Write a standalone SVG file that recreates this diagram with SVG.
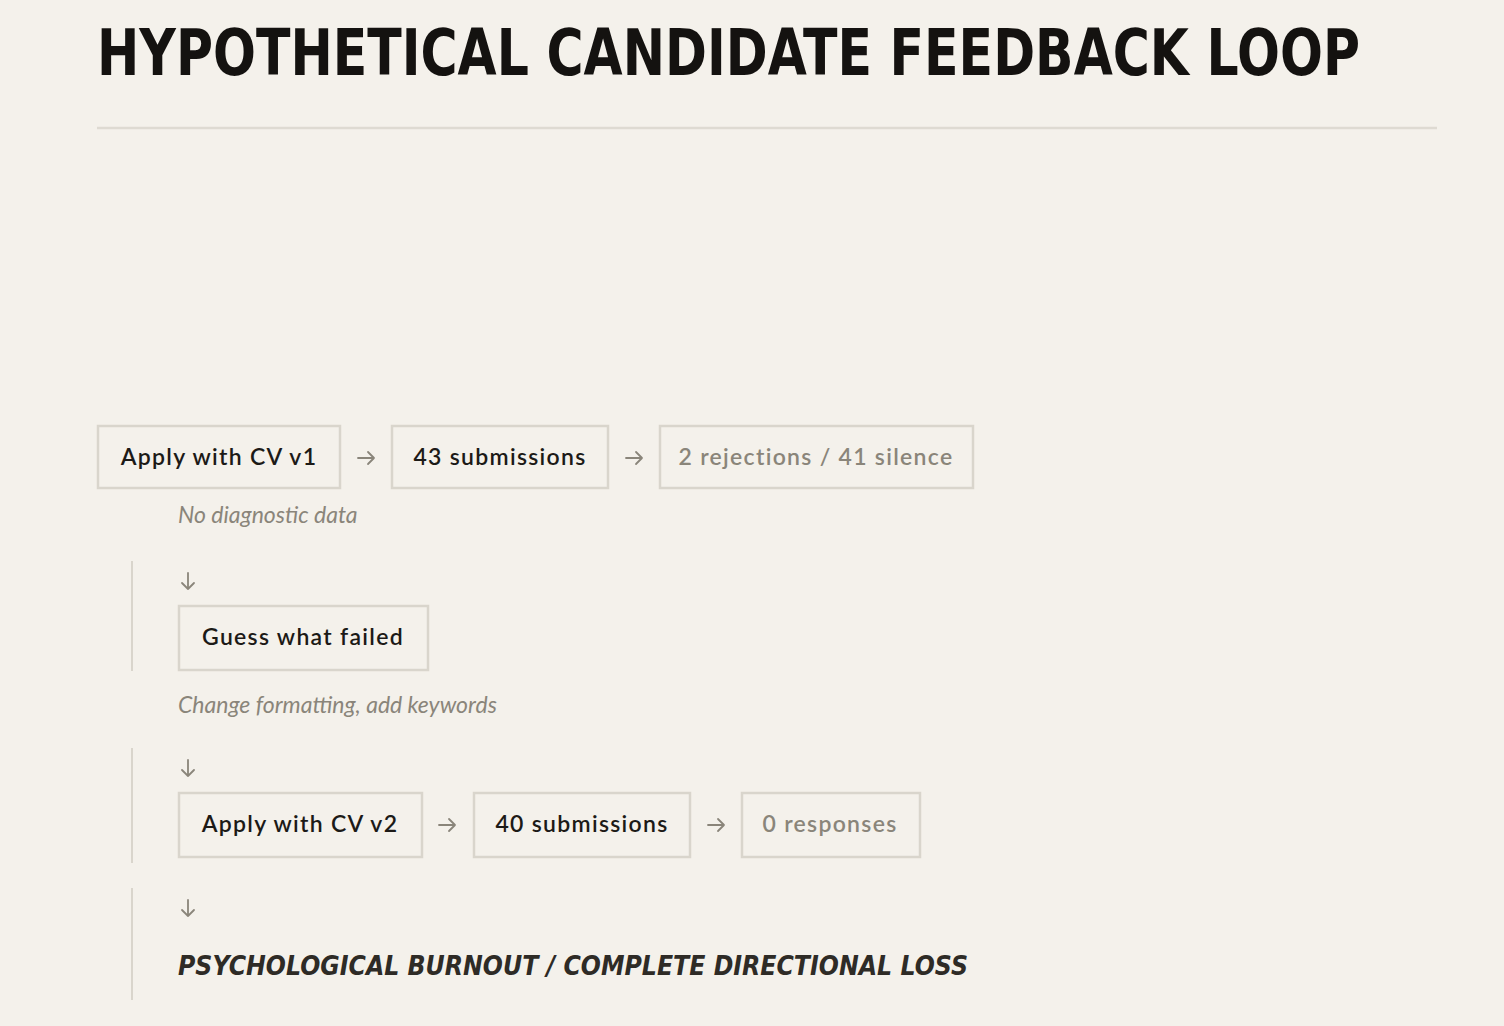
<svg xmlns="http://www.w3.org/2000/svg" width="1504" height="1026" viewBox="0 0 1504 1026">
<style>
.title{font-family:"DejaVu Sans","Liberation Sans",sans-serif;font-weight:700;font-size:52px;fill:#141210}
.box{fill:none;stroke:#d9d5cc;stroke-width:2.5}
.lbl{font-family:Lato,"Liberation Sans",sans-serif;font-size:23px;font-weight:600;letter-spacing:1.3px;fill:#1c1a17;text-anchor:middle}
.dim{fill:#8a857a}
.note{font-family:Lato,"Liberation Sans",sans-serif;font-style:italic;font-size:23px;fill:#8a857a}
.arr{fill:none;stroke:#8a857a;stroke-width:1.8;stroke-linecap:round;stroke-linejoin:round}
.rail{stroke:#d9d5cc;stroke-width:2}
.final{font-family:"DejaVu Sans","Liberation Sans",sans-serif;font-weight:700;font-style:italic;font-size:26px;fill:#2e2b26}
</style>
<rect width="1504" height="1026" fill="#f4f1eb"/>
<g id="header">
<text class="title" transform="translate(97 75) scale(1 1.22)" x="0" y="0" textLength="1263" lengthAdjust="spacingAndGlyphs">HYPOTHETICAL CANDIDATE FEEDBACK LOOP</text>
<line x1="97" y1="128" x2="1437" y2="128" stroke="#dedad2" stroke-width="2.5"/>
</g>
<g id="rails">
<line class="rail" x1="132" y1="561" x2="132" y2="671"/>
<line class="rail" x1="132" y1="748" x2="132" y2="863"/>
<line class="rail" x1="132" y1="888" x2="132" y2="1000"/>
</g>
<g id="n-apply1">
<rect class="box" x="98" y="426" width="242" height="62"/>
<text class="lbl" x="219" y="465">Apply with CV v1</text>
</g>
<g id="n-sub43">
<rect class="box" x="392" y="426" width="216" height="62"/>
<text class="lbl" x="500" y="465">43 submissions</text>
</g>
<g id="n-rej">
<rect class="box" x="660" y="426" width="313" height="62"/>
<text class="lbl dim" x="816" y="465">2 rejections / 41 silence</text>
</g>
<g id="note1">
<text class="note" x="178" y="523">No diagnostic data</text>
</g>
<g id="n-guess">
<rect class="box" x="179" y="606" width="249" height="64"/>
<text class="lbl" x="303" y="645">Guess what failed</text>
</g>
<g id="note2">
<text class="note" x="178" y="713">Change formatting, add keywords</text>
</g>
<g id="n-apply2">
<rect class="box" x="179" y="793" width="243" height="64"/>
<text class="lbl" x="300" y="832">Apply with CV v2</text>
</g>
<g id="n-sub40">
<rect class="box" x="474" y="793" width="216" height="64"/>
<text class="lbl" x="582" y="832">40 submissions</text>
</g>
<g id="n-resp">
<rect class="box" x="742" y="793" width="178" height="64"/>
<text class="lbl dim" x="830" y="832">0 responses</text>
</g>
<g id="n-final">
<text class="final" x="178" y="975" textLength="790" lengthAdjust="spacingAndGlyphs">PSYCHOLOGICAL BURNOUT / COMPLETE DIRECTIONAL LOSS</text>
</g>
<g id="connectors">
<path class="arr" d="M358 458 H374 M368 452 L374 458 L368 464"/>
<path class="arr" d="M626 458 H642 M636 452 L642 458 L636 464"/>
<path class="arr" d="M188 573 V589 M182 583 L188 589 L194 583"/>
<path class="arr" d="M188 760 V776 M182 770 L188 776 L194 770"/>
<path class="arr" d="M439 825 H455 M449 819 L455 825 L449 831"/>
<path class="arr" d="M708 825 H724 M718 819 L724 825 L718 831"/>
<path class="arr" d="M188 900 V916 M182 910 L188 916 L194 910"/>
</g>
</svg>
